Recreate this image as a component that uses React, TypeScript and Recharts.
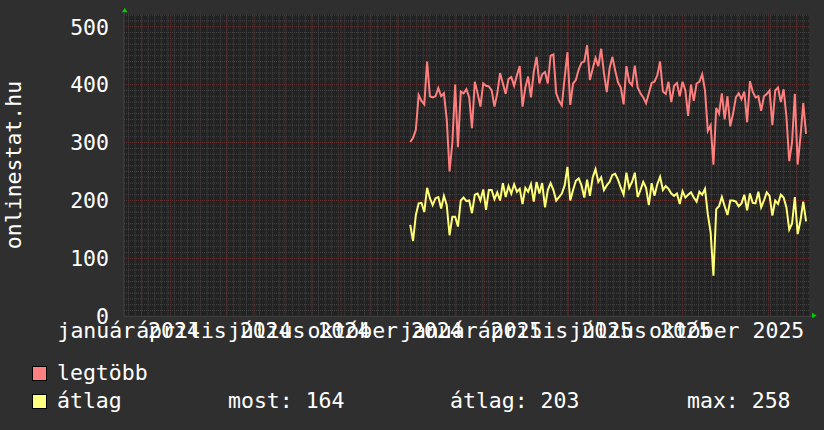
import React from "react";
import { LineChart, Line, XAxis, YAxis, CartesianGrid, ReferenceDot } from "recharts";

// napok 2024-01-01 óta; a minták 3 naponként jönnek
const FIRST_DAY = 287;
const STEP_DAYS = 3;

const legtobb = [
  301, 308, 322, 382, 372, 366, 440, 380, 378, 380, 394, 380, 385, 340, 250, 300, 400, 292, 388, 385,
  392, 378, 325, 405, 385, 362, 402, 398, 397,
  390, 362, 385, 420, 402, 384, 410, 413, 398, 416, 432, 362, 395, 414, 378, 422, 448, 402, 418, 422,
  402, 450, 452, 385, 372, 364, 412, 456,
  365, 402, 408, 426, 438, 440, 468, 408, 428, 446, 432, 462, 420, 387, 428, 448, 425, 404, 395, 366,
  432, 405, 399, 433, 395, 385, 378, 368, 385,
  403, 405, 416, 440, 388, 384, 405, 370, 398, 403, 380, 405, 390, 346, 400, 372, 402, 405, 418, 390,
  320, 330, 262, 360, 350, 385, 340, 380,
  328, 350, 378, 385, 375, 388, 335, 406, 388, 378, 380, 355, 380, 384, 390, 330, 390, 395, 370, 392,
  345, 268, 300, 384, 262, 310, 368, 315,
];

const atlag = [
  158, 130, 175, 195, 196, 180, 222, 204, 192, 204, 206, 186, 208, 192, 140, 172, 172, 155, 200, 205,
  199, 200, 178, 210, 212, 200, 219, 184, 218,
  218, 202, 214, 200, 230, 206, 225, 212, 228, 215, 220, 194, 222, 215, 228, 198, 232, 212, 230, 188,
  218, 230, 218, 200, 206, 212, 226, 258,
  200, 218, 234, 238, 226, 205, 236, 208, 240, 254, 232, 240, 218, 226, 232, 244, 246, 236, 222, 210,
  248, 222, 232, 248, 206, 218, 232, 222, 192,
  230, 208, 228, 241, 218, 225, 220, 212, 208, 212, 194, 216, 205, 210, 214, 205, 198, 215, 210, 220,
  176, 145, 70, 185, 190, 206, 190, 175,
  200, 200, 198, 190, 195, 210, 183, 212, 196, 195, 215, 188, 200, 214, 208, 174, 200, 194, 210, 205,
  188, 150, 160, 206, 142, 165, 198, 164,
];

const quarterDays = [0, 91, 182, 274, 366, 456, 547, 639];
const quarterLabels = [
  "január 2024",
  "április 2024",
  "július 2024",
  "október 2024",
  "január 2025",
  "április 2025",
  "július 2025",
  "október 2025",
];
const monthDays = [
  0, 31, 60, 91, 121, 152, 182, 213, 244, 274, 305, 335,
  366, 397, 425, 456, 486, 517, 547, 578, 609, 639, 670, 700,
];
const yTicks = [0, 100, 200, 300, 400, 500];

const X_DOMAIN = [-18.9, 714.2];
const Y_TOP = 521.5;

const rows = legtobb.map((v, i) => ({
  day: FIRST_DAY + i * STEP_DAYS,
  legtobb: v,
  atlag: atlag[i],
}));

const weekDays: number[] = [];
for (let d = -14; d <= 714; d += 7) weekDays.push(d);
const minorY: number[] = [];
for (let v = 10; v <= 520; v += 10) if (v % 100 !== 0) minorY.push(v);
const majorY = [100, 200, 300, 400, 500];

const FONT = {
  fontFamily: "'DejaVu Sans Mono', monospace",
  fontSize: 21.5,
  fill: "#ffffff",
};

const XTick = (props: any) => {
  const { x, payload } = props;
  const i = quarterDays.indexOf(payload.value);
  return (
    <text x={x - 13} y={338.3} textAnchor="middle" {...FONT}>
      {quarterLabels[i]}
    </text>
  );
};

const YTick = (props: any) => {
  const { y, payload } = props;
  return (
    <text x={109} y={y + 7.8} textAnchor="end" {...FONT}>
      {payload.value}
    </text>
  );
};

const UpArrow = (props: any) => {
  const { cx, cy } = props;
  return (
    <g>
      <line x1={cx} y1={cy} x2={cx} y2={cy - 2} stroke="#444" />
      <polygon points={`${cx - 2},${cy - 2} ${cx + 3.5},${cy - 2} ${cx + 0.8},${cy - 6.5}`} fill="#00cc00" />
    </g>
  );
};

const RightArrow = (props: any) => {
  const { cx, cy } = props;
  return (
    <g>
      <line x1={cx} y1={cy} x2={cx + 2} y2={cy} stroke="#444" />
      <polygon points={`${cx + 2},${cy - 3.5} ${cx + 2},${cy + 2} ${cx + 6.5},${cy - 0.8}`} fill="#00cc00" />
    </g>
  );
};

export default function App() {
  return (
    <div style={{ position: "absolute", left: 0, top: 0, width: 824, height: 430, background: "#2f2f2f" }}>
      <LineChart width={824} height={430} data={rows} margin={{ top: 14.3, right: 14, bottom: 0, left: 0 }}>
        <CartesianGrid
          fill="#222222"
          stroke="#464646"
          strokeDasharray="1 1"
          horizontalValues={minorY}
          verticalValues={weekDays}
        />
        <CartesianGrid
          fill="none"
          stroke="#6a3030"
          strokeDasharray="1 1"
          horizontalValues={majorY}
          verticalValues={monthDays}
        />
        <XAxis
          type="number"
          dataKey="day"
          domain={X_DOMAIN}
          ticks={quarterDays}
          interval={0}
          height={113.7}
          tickLine={false}
          axisLine={{ stroke: "#444" }}
          tick={XTick}
          allowDataOverflow
        />
        <YAxis
          type="number"
          domain={[0, Y_TOP]}
          ticks={yTicks}
          interval={0}
          width={124}
          tickLine={false}
          axisLine={{ stroke: "#444" }}
          tick={YTick}
          allowDataOverflow
          label={{
            content: () => (
              <text x={20.5} y={165} transform="rotate(-90 20.5 165)" textAnchor="middle" {...FONT}>
                onlinestat.hu
              </text>
            ),
          }}
        />
        <Line type="linear" dataKey="legtobb" stroke="#ff7f7f" strokeWidth={2} dot={false} isAnimationActive={false} />
        <Line type="linear" dataKey="atlag" stroke="#ffff77" strokeWidth={2} dot={false} isAnimationActive={false} />
        <ReferenceDot x={X_DOMAIN[0]} y={Y_TOP} ifOverflow="visible" shape={UpArrow} />
        <ReferenceDot x={X_DOMAIN[1]} y={0} ifOverflow="visible" shape={RightArrow} />
      </LineChart>
      <svg
        width={824}
        height={430}
        style={{ position: "absolute", left: 0, top: 0, pointerEvents: "none" }}
      >
        <rect x={32.5} y={366.5} width={14} height={14} fill="#ff8080" stroke="#000" />
        <rect x={32.5} y={394.5} width={14} height={14} fill="#ffff80" stroke="#000" />
        <text x={57} y={380} {...FONT}>legtöbb</text>
        <text x={57} y={408.3} {...FONT}>átlag</text>
        <text x={228} y={408.3} {...FONT}>most: 164</text>
        <text x={450} y={408.3} {...FONT}>átlag: 203</text>
        <text x={687} y={408.3} {...FONT}>max: 258</text>
      </svg>
    </div>
  );
}
